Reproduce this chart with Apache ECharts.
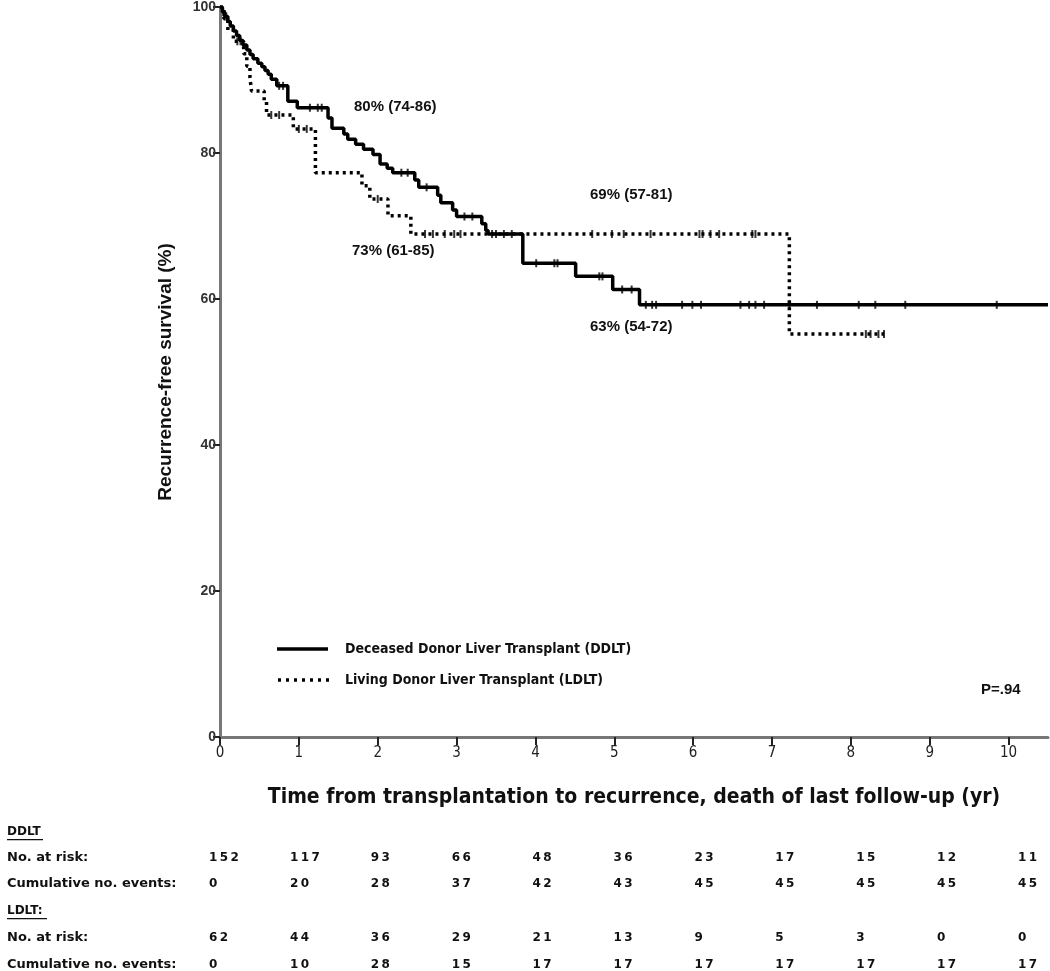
<!DOCTYPE html>
<html>
<head>
<meta charset="utf-8">
<script src="https://cdn.jsdelivr.net/npm/echarts@6/dist/echarts.min.js"></script>
<style>
html,body{margin:0;padding:0;background:#fff;}
#chart{width:1050px;height:971px;}
</style>
</head>
<body>
<div id="chart"></div>
<script>
// ---------- data ----------
const xTicks = [0,1,2,3,4,5,6,7,8,9,10];
const yTicks = [0,20,40,60,80,100];

const ddltTime = [0,0.03,0.06,0.10,0.13,0.17,0.21,0.25,0.29,0.34,0.38,0.42,0.48,0.53,0.57,0.61,0.65,0.72,0.86,0.98,1.37,1.42,1.57,1.62,1.72,1.82,1.94,2.03,2.12,2.19,2.47,2.52,2.76,2.80,2.95,3.00,3.32,3.37,3.40,3.84,4.51,4.98,5.32,10.5];
const ddltSurv = [100,99.3,98.7,98.0,97.4,96.7,96.1,95.4,94.8,94.1,93.5,92.9,92.3,91.8,91.3,90.8,90.1,89.2,87.1,86.2,84.8,83.4,82.6,81.9,81.2,80.5,79.8,78.5,77.9,77.3,76.3,75.3,74.2,73.2,72.2,71.3,70.3,69.4,68.9,64.9,63.1,61.3,59.2,59.2];
const ddltCensor = [0.04,0.08,0.75,0.80,1.14,1.24,1.29,2.30,2.38,2.62,3.10,3.20,3.50,3.60,3.70,4.01,4.24,4.28,4.81,4.85,5.10,5.22,5.40,5.48,5.53,5.86,5.99,6.10,6.60,6.71,6.79,6.90,7.22,7.57,8.10,8.31,8.69,9.85];

const ldltTime = [0,0.05,0.10,0.17,0.30,0.34,0.38,0.40,0.56,0.59,0.93,1.21,1.80,1.90,2.13,2.42,7.22,8.42];
const ldltSurv = [100,98.4,96.8,95.3,93.6,91.9,90.3,88.5,87.0,85.2,83.3,77.3,75.5,73.7,71.4,68.9,55.2,55.2];
const ldltCensor = [0.22,0.26,0.65,0.75,1.00,1.10,2.00,2.60,2.70,2.85,2.97,3.05,3.45,4.72,4.97,5.12,5.46,6.08,6.12,6.22,6.33,6.75,6.79,8.19,8.25,8.35,8.42];

const seriesNames = ['Deceased Donor Liver Transplant (DDLT)','Living Donor Liver Transplant (LDLT)'];
const annotations = ['80% (74-86)','69% (57-81)','73% (61-85)','63% (54-72)','P=.94'];

const ddltAtRisk = [152,117,93,66,48,36,23,17,15,12,11];
const ddltEvents = [0,20,28,37,42,43,45,45,45,45,45];
const ldltAtRisk = [62,44,36,29,21,13,9,5,3,0,0];
const ldltEvents = [0,10,28,15,17,17,17,17,17,17,17];
const tableGroups = ['DDLT','LDLT:'];
const rowLabels = ['No. at risk:','Cumulative no. events:'];

// ---------- helpers ----------
function pairs(t,s){return t.map((v,i)=>[v,s[i]]);}
function survAt(t,s,x){let v=s[0];for(let i=0;i<t.length;i++){if(t[i]<=x)v=s[i];}return v;}

const chart = echarts.init(document.getElementById('chart'));
const sans = 'Liberation Sans, Arial, sans-serif';
const wide = 'DejaVu Sans, Verdana, sans-serif';
const narrow = 'Liberation Sans Narrow, DejaVu Sans Condensed, Arial Narrow, sans-serif';

const graphics = [];
function txt(x,y,text,font){
  return {type:'text',x:x,y:y,style:{text:text,font:font,fill:'#111',verticalAlign:'middle',align:'left'}};
}
// legend (drawn)
const legY = [649,680];
graphics.push({type:'line',shape:{x1:277,y1:legY[0],x2:328,y2:legY[0]},style:{stroke:'#000',lineWidth:3.5}});
graphics.push({type:'line',shape:{x1:278,y1:legY[1],x2:330,y2:legY[1]},style:{stroke:'#000',lineWidth:3.5,lineDash:[3,5]}});
seriesNames.forEach((n,i)=>{ graphics.push(txt(345,legY[i],n,'bold 14px '+narrow)); });
// table
const rowsY = [832,858,884,911,938,965];
const colX = i => 209 + i*80.9;
tableGroups.forEach((g,gi)=>{
  graphics.push(txt(7,rowsY[gi*3],g,'bold 12px '+wide));
  graphics.push({type:'rect',shape:{x:7,y:rowsY[gi*3]+7,width:(gi===0?36:40),height:1.2},style:{fill:'#111'}});
  rowLabels.forEach((r,ri)=>{ graphics.push(txt(7,rowsY[gi*3+1+ri],r,'bold 13px '+wide)); });
});
[[ddltAtRisk,1],[ddltEvents,2],[ldltAtRisk,4],[ldltEvents,5]].forEach(([arr,row])=>{
  arr.forEach((v,i)=>{
    graphics.push(txt(colX(i),rowsY[row],String(v).split('').join('\u2009'),'bold 12px '+wide));
  });
});
// annotations
const annPos = [[354,107],[590,195],[352,251],[590,327],[981,690]];
annotations.forEach((a,i)=>{ graphics.push(txt(annPos[i][0],annPos[i][1],a,'bold 15px '+sans)); });

const option = {
  animation:false,
  backgroundColor:'#fff',
  grid:{left:220,right:2,top:6,bottom:234},
  xAxis:{
    type:'value',min:0,max:10.5,interval:1,
    name:'Time from transplantation to recurrence, death of last follow-up (yr)',
    nameLocation:'middle',nameGap:50,
    nameTextStyle:{fontFamily:narrow,fontSize:21,fontWeight:'bold',color:'#111'},
    axisLine:{onZero:false,lineStyle:{color:'#777',width:3}},
    axisTick:{customValues:xTicks,length:8,lineStyle:{color:'#222',width:2}},
    axisLabel:{customValues:xTicks,fontFamily:narrow,fontSize:15,color:'#222',margin:9},
    splitLine:{show:false}
  },
  yAxis:{
    type:'value',min:0,max:100,interval:20,
    name:'Recurrence-free survival (%)',
    nameLocation:'middle',nameGap:45,
    nameTextStyle:{fontFamily:sans,fontSize:19,fontWeight:'bold',color:'#111'},
    axisLine:{onZero:false,lineStyle:{color:'#777',width:3}},
    axisTick:{customValues:yTicks,length:7,lineStyle:{color:'#222',width:2}},
    axisLabel:{customValues:yTicks,fontFamily:sans,fontSize:14,fontWeight:'bold',color:'#333',margin:4},
    splitLine:{show:false}
  },
  series:[
    {name:seriesNames[0],type:'line',step:'end',symbol:'none',data:pairs(ddltTime,ddltSurv),
     lineStyle:{color:'#000',width:3.5},itemStyle:{color:'#000'},z:3},
    {name:seriesNames[1],type:'line',step:'end',symbol:'none',data:pairs(ldltTime,ldltSurv),
     lineStyle:{color:'#000',width:3.5,type:[3,4]},itemStyle:{color:'#000'},z:2},
    {name:'ddltCensor',type:'scatter',symbol:'rect',symbolSize:[2,8],
     data:ddltCensor.map(t=>[t,survAt(ddltTime,ddltSurv,t)]),itemStyle:{color:'#000'},z:4},
    {name:'ldltCensor',type:'scatter',symbol:'rect',symbolSize:[2,8],
     data:ldltCensor.map(t=>[t,survAt(ldltTime,ldltSurv,t)]),itemStyle:{color:'#000'},z:4}
  ],
  graphic:graphics
};
chart.setOption(option);
</script>
</body>
</html>
